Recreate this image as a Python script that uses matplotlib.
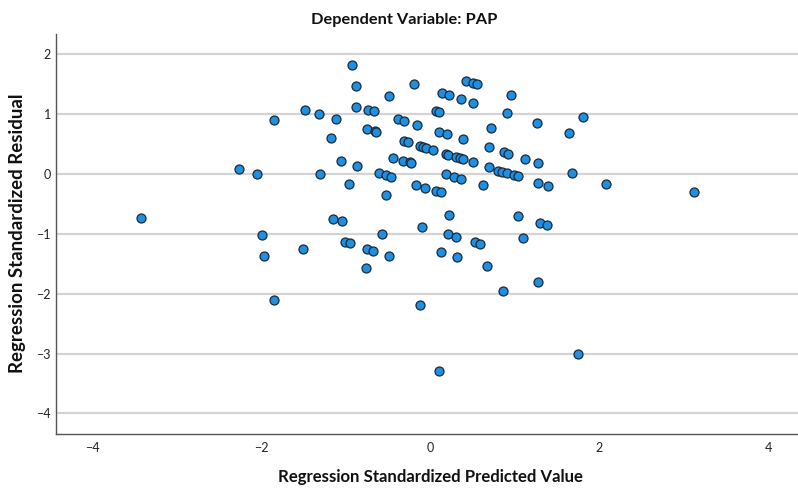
import matplotlib
matplotlib.use("Agg")
import matplotlib.pyplot as plt

# Standardized predicted values (x) and standardized residuals (y)
pred = [-3.43, -2.27, -2.06, -1.85, -2.00, -1.97, -1.85, -1.51, -1.49, -1.32,
        -1.31, -1.12, -1.18, -1.06, -0.93, -0.88, -0.88, -0.87, -0.96, -1.15,
        -1.05, -1.01, -0.95, -0.74, -0.67, -0.75, -0.66, -0.65, -0.49, -0.44,
        -0.61, -0.53, -0.47, -0.53, -0.57, -0.39, -0.75, -0.68, -0.77, -0.49,
        -0.19, 0.13, 0.22, 0.36, 0.42, 0.50, 0.55, 0.50, 0.95, 0.91,
        0.07, 0.10, -0.32, -0.16, 0.10, 0.20, 0.38, 0.71, 1.26, 1.80,
        1.64, -0.31, -0.27, -0.12, -0.09, -0.05, 0.03, 0.18, 0.21, 0.30,
        0.35, 0.39, 0.50, 0.69, 0.69, 0.87, 0.92, 1.12, 1.27, -0.33,
        -0.24, -0.23, -0.17, -0.06, 0.06, 0.12, 0.18, 0.28, 0.36, 0.62,
        0.80, 0.85, 0.90, 0.99, 1.03, 1.27, 1.39, 1.68, 2.08, 3.12,
        0.22, -0.10, 1.03, 1.30, 1.38, 0.21, 0.30, 0.53, 0.59, 1.10,
        0.12, 0.31, 0.67, 1.27, 0.86, -0.13, 1.74, 0.10]
resid = [-0.74, 0.08, -0.01, 0.89, -1.03, -1.38, -2.10, -1.25, 1.06, 0.99,
         -0.01, 0.91, 0.60, 0.21, 1.82, 1.46, 1.12, 0.13, -0.17, -0.75,
         -0.79, -1.14, -1.16, 1.06, 1.04, 0.74, 0.71, 0.70, 1.29, 0.27,
         0.02, -0.02, -0.05, -0.35, -1.00, 0.91, -1.26, -1.29, -1.58, -1.37,
         1.49, 1.34, 1.31, 1.25, 1.55, 1.52, 1.50, 1.18, 1.32, 1.01,
         1.05, 1.03, 0.88, 0.81, 0.70, 0.66, 0.58, 0.76, 0.85, 0.95,
         0.68, 0.55, 0.53, 0.46, 0.44, 0.43, 0.40, 0.33, 0.31, 0.28,
         0.26, 0.24, 0.19, 0.44, 0.12, 0.37, 0.33, 0.25, 0.18, 0.22,
         0.19, 0.18, -0.18, -0.23, -0.28, -0.31, 0.00, -0.05, -0.08, -0.19,
         0.05, 0.03, 0.01, -0.02, -0.04, -0.15, -0.20, 0.01, -0.17, -0.30,
         -0.68, -0.88, -0.71, -0.82, -0.86, -1.01, -1.06, -1.14, -1.17, -1.07,
         -1.31, -1.39, -1.54, -1.81, -1.96, -2.19, -3.01, -3.29]

x_ticks = [-4, -2, 0, 2, 4]
y_ticks = [-4, -3, -2, -1, 0, 1, 2]

plt.rcParams['font.family'] = ['Lato', 'DejaVu Sans']

fig = plt.figure(figsize=(7.98, 4.88), dpi=100)
ax = fig.add_axes([0.0706, 0.111, 0.9294, 0.819])

for t in y_ticks:
    ax.axhline(t, color='#d4d4d4', linewidth=1.6, zorder=1)

ax.scatter(pred, resid, s=42, color='#1e8fe1', edgecolors='#1a2a3a',
           linewidths=0.9, zorder=3)

ax.set_xlim(-4.43, 4.35)
ax.set_ylim(-4.34, 2.33)
ax.set_xticks(x_ticks)
ax.set_yticks(y_ticks)
ax.set_xticklabels([str(v).replace('-', '\u2212') for v in x_ticks])
ax.set_yticklabels([str(v).replace('-', '\u2212') for v in y_ticks])
ax.tick_params(length=0, labelsize=9, colors='#222222')
ax.tick_params(axis='x', pad=6)
ax.tick_params(axis='y', pad=4)

for side in ['top', 'right']:
    ax.spines[side].set_visible(False)
for side in ['left', 'bottom']:
    ax.spines[side].set_color('#555555')
    ax.spines[side].set_linewidth(1.0)

fig.text(0.506, 0.959, 'Dependent Variable: PAP', ha='center', va='center',
         fontsize=11.8, fontweight='bold', color='#111111')
fig.text(0.540, 0.022, 'Regression Standardized Predicted Value', ha='center',
         va='center', fontsize=12.1, fontweight='bold', color='#111111')
fig.text(0.022, 0.5215, 'Regression Standardized Residual', ha='center',
         va='center', rotation=90, fontsize=13.4, fontweight='bold',
         color='#111111')

fig.savefig('out.png', dpi=100)
